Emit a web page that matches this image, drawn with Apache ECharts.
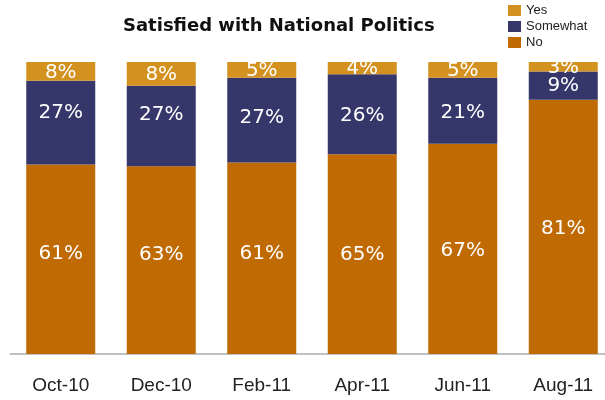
<!DOCTYPE html>
<html>
<head>
<meta charset="utf-8">
<script src="https://cdn.jsdelivr.net/npm/echarts@6/dist/echarts.min.js"></script>
<style>
  html, body { margin: 0; padding: 0; background: #ffffff; }
  #chart { width: 605px; height: 400px; }
</style>
</head>
<body>
<div id="chart"></div>
<script>
// ---- data ----
const categories = ['Oct-10', 'Dec-10', 'Feb-11', 'Apr-11', 'Jun-11', 'Aug-11'];
// values printed on the bars (%)
const yesShown = [8, 8, 5, 4, 5, 3];
const somewhatShown = [27, 27, 27, 26, 21, 9];
const noShown = [61, 63, 61, 65, 67, 81];
// segment sizes as drawn (each bar is scaled to 100%)
const yesDrawn = [6, 8, 5, 4, 5, 3];
const somewhatDrawn = [27, 27, 27, 26, 21, 9];
const noDrawn = [61, 63, 61, 65, 67, 81];
const seriesNames = ['Yes', 'Somewhat', 'No'];

// ---- style ----
const colors = { Yes: '#D3921F', Somewhat: '#35376B', No: '#BF6A02' };
const labelShift = {
  Yes: [1, 1, 1, 1, 1, 1],
  Somewhat: [-10, -11, -2, 2, 2, 0],
  No: [-5, -5, -4, 1, 2, 2]
};

const totals = categories.map((c, i) => yesDrawn[i] + somewhatDrawn[i] + noDrawn[i]);
function build(name, drawn, shown) {
  return {
    name: name,
    type: 'bar',
    stack: 'all',
    barWidth: 69,
    itemStyle: { color: colors[name] },
    emphasis: { disabled: true },
    data: drawn.map((v, i) => ({
      value: v / totals[i] * 100,
      label: {
        show: true,
        position: 'inside',
        offset: [0, labelShift[name][i]],
        formatter: shown[i] + '%'
      }
    })),
    label: {
      color: '#ffffff',
      fontFamily: 'DejaVu Sans',
      fontSize: 20
    }
  };
}

const chart = echarts.init(document.getElementById('chart'), null, { renderer: 'canvas' });
chart.setOption({
  animation: false,
  backgroundColor: '#ffffff',
  title: {
    text: 'Satisfied with National Politics',
    left: 118,
    top: 12,
    textStyle: { fontFamily: 'DejaVu Sans', fontWeight: 'bold', fontSize: 18, color: '#111111' }
  },
  legend: {
    data: seriesNames,
    orient: 'vertical',
    left: 508,
    top: 3,
    padding: 0,
    itemWidth: 13,
    itemHeight: 11,
    itemGap: 1,
    icon: 'rect',
    selectedMode: false,
    textStyle: { fontFamily: 'Liberation Sans', fontSize: 13, lineHeight: 15, color: '#222222' }
  },
  grid: { left: 10.5, top: 62, width: 603, height: 292, containLabel: false, outerBoundsMode: 'none' },
  xAxis: {
    type: 'category',
    data: categories,
    axisLine: { show: true, lineStyle: { color: '#C0C0C0', width: 2 } },
    axisTick: { show: false },
    axisLabel: { margin: 22, fontFamily: 'Liberation Sans', fontSize: 19, color: '#222222' }
  },
  yAxis: { type: 'value', min: 0, max: 100, show: false, splitLine: { show: false } },
  series: [
    build('No', noDrawn, noShown),
    build('Somewhat', somewhatDrawn, somewhatShown),
    build('Yes', yesDrawn, yesShown)
  ]
});
</script>
</body>
</html>
